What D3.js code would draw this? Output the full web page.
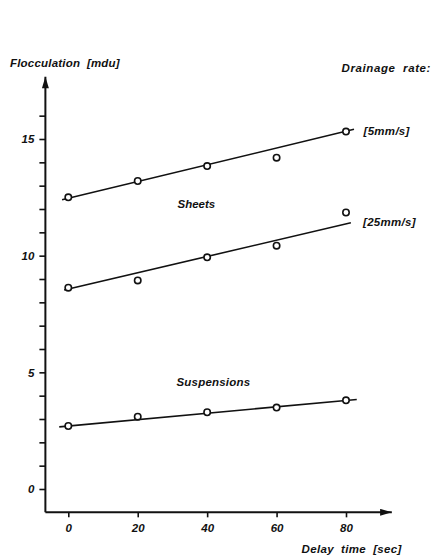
<!DOCTYPE html>
<html>
<head>
<meta charset="utf-8">
<script src="https://cdn.jsdelivr.net/npm/d3@7"></script>
<style>
  html, body { margin: 0; padding: 0; background: #fff; }
  svg text { font-family: "Liberation Sans", Arial, sans-serif; font-style: italic; font-weight: bold; fill: #111; white-space: pre; }
</style>
</head>
<body>
<svg id="chart" width="434" height="556"></svg>
<script>
// Delay times (sec) at which flocculation was measured
const delayTimes = [0, 20, 40, 60, 80];

// Measured flocculation (mdu) per series
const seriesNames = ["[5mm/s]", "[25mm/s]", "Suspensions"];
const sheets5 = [12.5, 13.2, 13.84, 14.2, 15.32];
const sheets25 = [8.63, 8.94, 9.93, 10.43, 11.85];
const suspensions = [2.7, 3.1, 3.29, 3.49, 3.8];

// Straight-line fits drawn through each series: intercept, slope, x-extent
const fitIntercept = [12.46, 8.57, 2.70];
const fitSlope = [0.0359, 0.0349, 0.0137];
const fitFrom = [-1.8, -1.2, -2.6];
const fitTo = [82.3, 81.4, 83.1];

// Axis ticks
const xTicks = [0, 20, 40, 60, 80];
const yTicks = d3.range(0, 17);
const yLabelled = [0, 5, 10, 15];

const svg = d3.select("#chart");
const ink = "#111";

const x = d3.scaleLinear().domain([0, 80]).range([68.3, 346]);
const y = d3.scaleLinear().domain([0, 15]).range([489, 139]);

const xMin = -6.6, xMax = 93.2;   // extent of horizontal axis
const yMin = -1, yMax = 17.67;    // extent of vertical axis

// arrow heads
const defs = svg.append("defs");
defs.append("marker")
  .attr("id", "arrow")
  .attr("viewBox", "0 0 10 6")
  .attr("refX", 10).attr("refY", 3)
  .attr("markerWidth", 14).attr("markerHeight", 7)
  .attr("markerUnits", "userSpaceOnUse")
  .attr("orient", "auto")
  .append("path")
  .attr("d", "M0,0 L10,3 L0,6 Z")
  .attr("fill", ink);

const styleTickText = sel => sel
  .attr("font-size", 11.5).attr("fill", ink)
  .style("font-family", '"Liberation Sans", Arial, sans-serif')
  .style("font-style", "italic").style("font-weight", "bold");

// vertical axis
const yAxis = d3.axisLeft(y)
  .tickValues(yTicks)
  .tickSize(6)
  .tickPadding(5)
  .tickFormat(d => yLabelled.includes(d) ? d : "");
const gy = svg.append("g")
  .attr("transform", `translate(${x(xMin)},0)`)
  .call(yAxis);
gy.select(".domain").remove();
gy.selectAll(".tick line").attr("stroke", ink).attr("stroke-width", 1.6);
gy.selectAll(".tick text").call(styleTickText);
svg.append("line")
  .attr("x1", x(xMin)).attr("x2", x(xMin))
  .attr("y1", y(yMin)).attr("y2", y(yMax))
  .attr("stroke", ink).attr("stroke-width", 2)
  .attr("marker-end", "url(#arrow)");

// horizontal axis
const xAxis = d3.axisBottom(x)
  .tickValues(xTicks)
  .tickSize(5)
  .tickPadding(7);
const gx = svg.append("g")
  .attr("transform", `translate(0,${y(yMin)})`)
  .call(xAxis);
gx.select(".domain").remove();
gx.selectAll(".tick line").attr("stroke", ink).attr("stroke-width", 1.6);
gx.selectAll(".tick text").call(styleTickText);
svg.append("line")
  .attr("x1", x(xMin)).attr("x2", x(xMax))
  .attr("y1", y(yMin)).attr("y2", y(yMin))
  .attr("stroke", ink).attr("stroke-width", 2)
  .attr("marker-end", "url(#arrow)");

// fitted lines and measured points
const allSeries = [sheets5, sheets25, suspensions];
const line = d3.line().x(d => x(d[0])).y(d => y(d[1]));
allSeries.forEach((vals, i) => {
  const f = t => fitIntercept[i] + fitSlope[i] * t;
  svg.append("path")
    .attr("d", line([[fitFrom[i], f(fitFrom[i])], [fitTo[i], f(fitTo[i])]]))
    .attr("fill", "none").attr("stroke", ink).attr("stroke-width", 1.6);
  svg.append("g").selectAll("circle")
    .data(vals.map((v, j) => [delayTimes[j], v]))
    .join("circle")
    .attr("cx", d => x(d[0])).attr("cy", d => y(d[1]))
    .attr("r", 3.2)
    .attr("fill", "#fff").attr("stroke", ink).attr("stroke-width", 1.6);
});

// text
const txt = (s, px, py, anchor, spacing) => svg.append("text")
  .attr("x", px).attr("y", py)
  .attr("font-size", 11.5)
  .attr("text-anchor", anchor || "start")
  .attr("letter-spacing", spacing || 0)
  .text(s);

txt("Flocculation  [mdu]", 10, 67, "start", 0.2);
txt("Drainage  rate:", 341.5, 71.5, "start", 0.6);
txt(seriesNames[0], 363.5, 135, "start", 0.3);
txt(seriesNames[1], 363, 225.5, "start", 0.3);
txt("Sheets", 177.5, 208);
txt(seriesNames[2], 176.5, 385.5, "start", 0.2);
txt("Delay  time  [sec]", 301.5, 553, "start", 0.35);
</script>
</body>
</html>
